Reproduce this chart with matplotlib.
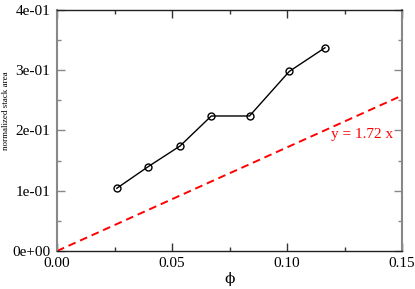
import matplotlib
matplotlib.use("Agg")
import matplotlib.pyplot as plt
import numpy as np
from matplotlib.ticker import MultipleLocator, FormatStrFormatter, FuncFormatter

phi = [0.0260, 0.0394, 0.0535, 0.0671, 0.0837, 0.1010, 0.1165]
area = [0.1041, 0.1394, 0.1743, 0.2241, 0.2241, 0.2981, 0.3373]
slope = 1.72
fit_x = [0.0, 0.15]
fit_label = "y = 1.72 x"

plt.rcParams['font.family'] = ['Liberation Serif', 'DejaVu Serif']

fig = plt.figure(figsize=(4.15, 2.89), dpi=100)
ax = fig.add_axes([57/415, 38/289, 345/415, 241/289])

ax.plot(fit_x, [slope * v for v in fit_x], color='red', lw=1.4, ls=(0, (4, 2.5)))
ax.plot(phi, area, color='black', lw=1.0, marker='o', markersize=5,
        markerfacecolor='none', markeredgecolor='black', markeredgewidth=1.0)
ax.text(0.146, 0.194, fit_label, color='red', fontsize=11, ha='right', va='center')

ax.set_xlim(0, 0.15)
ax.set_ylim(0, 0.4)
ax.xaxis.set_major_locator(MultipleLocator(0.05))
ax.xaxis.set_minor_locator(MultipleLocator(0.025))
ax.yaxis.set_major_locator(MultipleLocator(0.1))
ax.yaxis.set_minor_locator(MultipleLocator(0.05))
ax.xaxis.set_major_formatter(FormatStrFormatter('%.2f'))

def yfmt(v, pos):
    if abs(v) < 1e-12:
        return "0e+00"
    return "%.0e" % v
ax.yaxis.set_major_formatter(FuncFormatter(yfmt))

ax.tick_params(which='both', direction='in', top=True, right=True, labelsize=11)
ax.tick_params(which='major', length=6, width=1)
ax.tick_params(which='minor', length=3, width=1)
ax.tick_params(axis='y', which='both', color='#888888', pad=5)
ax.tick_params(axis='x', which='both', color='#333333', pad=4)
for s in ['left', 'right']:
    ax.spines[s].set_color('#888888')
    ax.spines[s].set_linewidth(1.5)
for s in ['top', 'bottom']:
    ax.spines[s].set_color('#222222')
    ax.spines[s].set_linewidth(1.0)

ax.set_xlabel('ϕ', fontsize=11, labelpad=2, family=['DejaVu Serif'])
fig.text(6/415, 1 - 111/289, 'normalized stack area', fontsize=6.5,
         rotation=90, ha='center', va='center')

fig.savefig('out.png', dpi=100)
